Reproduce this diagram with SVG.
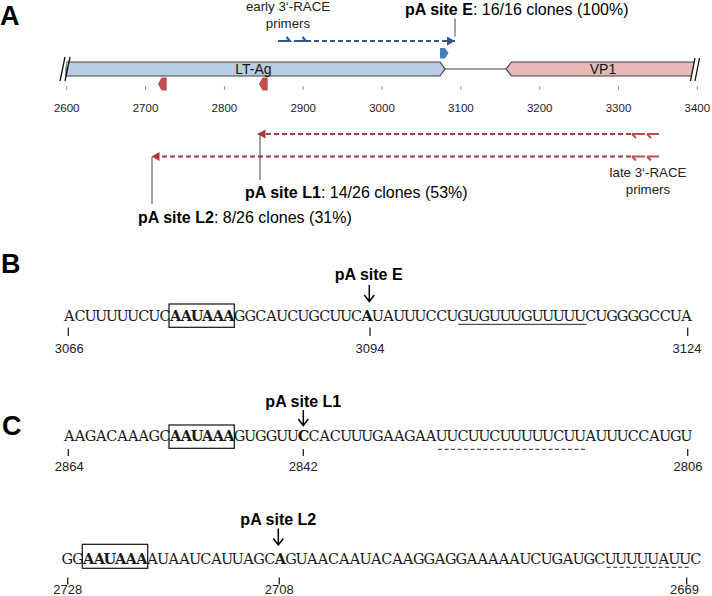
<svg xmlns="http://www.w3.org/2000/svg" width="712" height="596" viewBox="0 0 712 596">
<style>
  .sans { font-family: "Liberation Sans", Arial, sans-serif; }
  .panel { font-family: "Liberation Sans", Arial, sans-serif; font-weight: bold; font-size: 27px; fill: #000; }
  .axis { font-family: "Liberation Sans", Arial, sans-serif; font-size: 11.5px; fill: #222; text-anchor: middle; }
  .small { font-family: "Liberation Sans", Arial, sans-serif; font-size: 13.3px; fill: #222; text-anchor: middle; }
  .lab { font-family: "Liberation Sans", Arial, sans-serif; font-size: 16px; fill: #000; }
  .b { font-weight: bold; }
  .seq { font-family: "DejaVu Serif", "Liberation Serif", serif; font-size: 14.5px; fill: #1a1a1a; text-anchor: middle; }
  .num { font-family: "Liberation Sans", Arial, sans-serif; font-size: 13px; fill: #222; text-anchor: middle; }
  .tick { stroke: #222; stroke-width: 1.3; }
  .box { fill: none; stroke: #111; stroke-width: 1.2; }
  .down { fill: none; stroke: #000; stroke-width: 1.5; }
  .leader { stroke: #444; stroke-width: 1; }
  .bdash { stroke: #2e5a8f; stroke-width: 2; stroke-dasharray: 5 3; fill: none; }
  .rdash { stroke: #a83b3b; stroke-width: 2; stroke-dasharray: 5 3; fill: none; }
  .bharp { stroke: #2e5a8f; stroke-width: 2; fill: none; }
  .rharp { stroke: #c0504d; stroke-width: 2; fill: none; }
  .gene { stroke: #404040; stroke-width: 1.2; }
</style>
<defs>
  <marker id="arrB" markerUnits="userSpaceOnUse" markerWidth="9" markerHeight="9" refX="8" refY="4.5" orient="auto">
    <path d="M0,0 L8,4.5 L0,9 z" fill="#2e5a8f"/>
  </marker>
  <marker id="arrR" markerUnits="userSpaceOnUse" markerWidth="9" markerHeight="9" refX="8" refY="4.5" orient="auto">
    <path d="M0,0 L8,4.5 L0,9 z" fill="#a83b3b"/>
  </marker>
</defs>

<!-- Panel letters -->
<text class="panel" x="0" y="25">A</text>
<text class="panel" x="1" y="273">B</text>
<text class="panel" x="2" y="435">C</text>

<!-- Panel A: gene map -->
<g id="lt-ag">
  <polygon class="gene" points="66,62 440,62 445,69 440,76 66,76" fill="#b9cde5"/>
  <text class="sans" x="253.5" y="74" font-size="14" text-anchor="middle" fill="#111">LT-Ag</text>
</g>
<g id="vp1">
  <polygon class="gene" points="506,69 511.5,62 694,62 694,76 511.5,76" fill="#e6b9b8"/>
  <text class="sans" x="603" y="74" font-size="14" text-anchor="middle" fill="#111">VP1</text>
</g>
<g id="breaks">
  <line x1="60.5" y1="80.5" x2="65.5" y2="57.5" stroke="#fff" stroke-width="4"/>
  <line x1="60" y1="81" x2="65" y2="57" stroke="#111" stroke-width="1.3"/>
  <line x1="65" y1="81" x2="70" y2="57" stroke="#111" stroke-width="1.3"/>
  <line x1="692.5" y1="80.5" x2="697" y2="58" stroke="#fff" stroke-width="4"/>
  <line x1="690.5" y1="81" x2="695" y2="58" stroke="#111" stroke-width="1.3"/>
  <line x1="695" y1="81" x2="699.5" y2="58" stroke="#111" stroke-width="1.3"/>
</g>
<g id="axis">
  <g stroke="#999" stroke-width="1">
    <line x1="66.7" y1="86" x2="66.7" y2="90"/>
    <line x1="145.5" y1="86" x2="145.5" y2="90"/>
    <line x1="224.4" y1="86" x2="224.4" y2="90"/>
    <line x1="303.2" y1="86" x2="303.2" y2="90"/>
    <line x1="382" y1="86" x2="382" y2="90"/>
    <line x1="460.9" y1="86" x2="460.9" y2="90"/>
    <line x1="539.7" y1="86" x2="539.7" y2="90"/>
    <line x1="618.5" y1="86" x2="618.5" y2="90"/>
    <line x1="697.3" y1="86" x2="697.3" y2="90"/>
  </g>
  <text class="axis" x="66.7" y="112">2600</text>
  <text class="axis" x="145.5" y="112">2700</text>
  <text class="axis" x="224.4" y="112">2800</text>
  <text class="axis" x="303.2" y="112">2900</text>
  <text class="axis" x="382" y="112">3000</text>
  <text class="axis" x="460.9" y="112">3100</text>
  <text class="axis" x="539.7" y="112">3200</text>
  <text class="axis" x="618.5" y="112">3300</text>
  <text class="axis" x="697.3" y="112">3400</text>
</g>
<g id="pa-markers">
  <polygon points="440,48 445,48 448.5,53 445,58.5 440,58.5" fill="#4a7ebb"/>
  <polygon points="166.7,77.5 161.5,77.5 158,84 161.5,90.5 166.7,90.5" fill="#c0504d"/>
  <polygon points="267.7,77.5 262.5,77.5 259,84 262.5,90.5 267.7,90.5" fill="#c0504d"/>
</g>
<g id="early-primers">
  <path class="bharp" d="M278,41 H290 L286.5,37 M294,41 H306 L302.5,37"/>
  <text class="small" x="288" y="11">early 3‘-RACE</text>
  <text class="small" x="288" y="28">primers</text>
</g>
<g id="late-primers">
  <path class="rharp" d="M632,134 H645 M632,134 L636,138 M647,134 H659 M647,134 L651,138"/>
  <path class="rharp" d="M632,156.5 H645 M632,156.5 L636,160.5 M647,156.5 H659 M647,156.5 L651,160.5"/>
  <text class="small" x="648" y="177">late 3‘-RACE</text>
  <text class="small" x="648" y="194">primers</text>
</g>
<g id="site-e-label">
  <text class="lab" x="405" y="15"><tspan class="b">pA site E</tspan>: 16/16 clones (100%)</text>
</g>
<g id="site-l1-label">
  <text class="lab" x="245" y="198"><tspan class="b">pA site L1</tspan>: 14/26 clones (53%)</text>
</g>
<g id="site-l2-label">
  <text class="lab" x="138" y="223"><tspan class="b">pA site L2</tspan>: 8/26 clones (31%)</text>
</g>

<g id="connectors">
  <line class="bdash" x1="306" y1="41" x2="455" y2="41" marker-end="url(#arrB)"/>
  <line class="rdash" x1="631" y1="134" x2="257.5" y2="134" marker-end="url(#arrR)"/>
  <line class="rdash" x1="631" y1="156.5" x2="151.5" y2="156.5" marker-end="url(#arrR)"/>
  <line class="leader" x1="455" y1="18.5" x2="455" y2="36.5"/>
  <line class="leader" x1="260" y1="134" x2="260" y2="180"/>
  <line class="leader" x1="152" y1="157" x2="152" y2="204"/>
  <line class="gene" x1="445" y1="69" x2="506" y2="69" fill="none"/>
</g>

<!-- Panel B -->
<g id="seq-b">
  <text class="lab b" x="368.7" y="280" text-anchor="middle">pA site E</text>
  <path class="down" d="M369.3,285 V301.5 M364.3,295 L369.3,301.5 L374.3,295"/>
  <rect class="box" x="169" y="304" width="65.3" height="23.3"/>
  <text class="seq" y="320.7" x="69.3 80 90.6 101.2 111.9 122.5 133.2 143.8 154.4 165.1 175.7 186.4 197 207.6 218.3 228.9 239.6 250.2 260.8 271.5 282.1 292.8 303.4 314 324.7 335.3 346 356.6 367.2 377.9 388.5 399.2 409.8 420.4 431.1 441.7 452.4 463 473.6 484.3 494.9 505.6 516.2 526.8 537.5 548.1 558.8 569.4 580 590.7 601.3 612 622.6 633.2 643.9 654.5 665.2 675.8 686.4">ACUUUUUCUC<tspan class="b">AAUAAA</tspan>GGCAUCUGCUUC<tspan class="b">A</tspan>UAUUUCCUGUGUUUGUUUUUCUGGGGCCUA</text>
  <line x1="458.3" y1="324.3" x2="586.7" y2="324.3" stroke="#222" stroke-width="1"/>
  <line class="tick" x1="68.3" y1="327.5" x2="68.3" y2="336"/>
  <line class="tick" x1="370" y1="327.5" x2="370" y2="336"/>
  <line class="tick" x1="687.7" y1="327.5" x2="687.7" y2="336"/>
  <text class="num" x="69.3" y="353">3066</text>
  <text class="num" x="370" y="353">3094</text>
  <text class="num" x="687" y="353">3124</text>
</g>

<!-- Panel C, line 1 -->
<g id="seq-c1">
  <text class="lab b" x="303.3" y="406.7" text-anchor="middle">pA site L1</text>
  <path class="down" d="M303.3,410 V425.5 M298.3,419 L303.3,425.5 L308.3,419"/>
  <rect class="box" x="169" y="425" width="65.3" height="23.3"/>
  <text class="seq" y="441" x="69.3 80 90.6 101.2 111.9 122.5 133.2 143.8 154.4 165.1 175.7 186.4 197 207.6 218.3 228.9 239.6 250.2 260.8 271.5 282.1 292.8 303.4 314 324.7 335.3 346 356.6 367.2 377.9 388.5 399.2 409.8 420.4 431.1 441.7 452.4 463 473.6 484.3 494.9 505.6 516.2 526.8 537.5 548.1 558.8 569.4 580 590.7 601.3 612 622.6 633.2 643.9 654.5 665.2 675.8 686.4">AAGACAAAGC<tspan class="b">AAUAAA</tspan>GUGGUU<tspan class="b">C</tspan>CACUUUGAAGAAUUCUUCUUUUUCUUAUUUCCAUGU</text>
  <line x1="438" y1="449.3" x2="587" y2="449.3" stroke="#222" stroke-width="1" stroke-dasharray="4 2.5"/>
  <line class="tick" x1="68.3" y1="449" x2="68.3" y2="456"/>
  <line class="tick" x1="303.3" y1="449" x2="303.3" y2="456"/>
  <line class="tick" x1="687.7" y1="449" x2="687.7" y2="456"/>
  <text class="num" x="69.3" y="471">2864</text>
  <text class="num" x="303.3" y="471">2842</text>
  <text class="num" x="688" y="471">2806</text>
</g>

<!-- Panel C, line 2 -->
<g id="seq-c2">
  <text class="lab b" x="278.3" y="525" text-anchor="middle">pA site L2</text>
  <path class="down" d="M278.3,528.5 V545 M273.3,538.5 L278.3,545 L283.3,538.5"/>
  <rect class="box" x="82.3" y="544.3" width="65.4" height="24"/>
  <text class="seq" y="564" x="67.3 78 88.6 99.3 109.9 120.6 131.2 141.9 152.5 163.2 173.8 184.5 195.1 205.8 216.4 227.1 237.7 248.4 259 269.7 280.3 291 301.6 312.3 322.9 333.6 344.2 354.9 365.5 376.2 386.8 397.5 408.1 418.8 429.4 440.1 450.7 461.4 472 482.7 493.3 504 514.6 525.3 535.9 546.6 557.2 567.9 578.5 589.2 599.8 610.5 621.1 631.8 642.4 653.1 663.7 674.4 685 695.7">GG<tspan class="b">AAUAAA</tspan>AUAAUCAUUAGC<tspan class="b">A</tspan>GUAACAAUACAAGGAGGAAAAAUCUGAUGCUUUUUAUUC</text>
  <line x1="606.7" y1="567.3" x2="689" y2="567.3" stroke="#222" stroke-width="1" stroke-dasharray="4 2.5"/>
  <line class="tick" x1="67.7" y1="577.5" x2="67.7" y2="584.5"/>
  <line class="tick" x1="279.3" y1="577.5" x2="279.3" y2="584.5"/>
  <line class="tick" x1="686.7" y1="577.5" x2="686.7" y2="584.5"/>
  <text class="num" x="67.7" y="594">2728</text>
  <text class="num" x="279.3" y="594">2708</text>
  <text class="num" x="684.5" y="594">2669</text>
</g>
</svg>
